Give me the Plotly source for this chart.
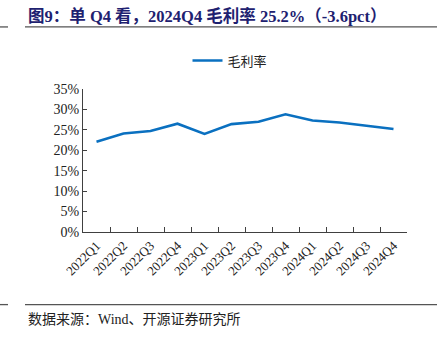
import plotly.graph_objects as go

categories = ["2022Q1", "2022Q2", "2022Q3", "2022Q4", "2023Q1", "2023Q2",
              "2023Q3", "2023Q4", "2024Q1", "2024Q2", "2024Q3", "2024Q4"]
gross_margin = [22.1, 24.1, 24.7, 26.5, 24.0, 26.4, 27.0, 28.8, 27.3, 26.8, 26.0, 25.2]
y_ticks = [0, 5, 10, 15, 20, 25, 30, 35]
y_tick_labels = [f"{v}%" for v in y_ticks]

W, H = 445, 337
L, R, T, B = 83, 407, 89.3, 231.7


def px(x):
    return (x - L) / (R - L)


def py(y):
    return (B - y) / (B - T)


serif = "Liberation Serif, Times New Roman, Noto Sans CJK SC, serif"
cjk = "Liberation Serif, Noto Sans CJK SC, serif"

fig = go.Figure()
fig.add_trace(go.Scatter(
    x=categories, y=gross_margin, mode="lines", name="毛利率",
    line=dict(color="#0A70C0", width=2.6),
))

fig.update_layout(
    width=W, height=H,
    margin=dict(l=L, r=W - R, t=T, b=H - B, pad=0),
    paper_bgcolor="white", plot_bgcolor="white",
    font=dict(family=serif, size=13, color="#222222"),
    showlegend=True,
    legend=dict(orientation="h", x=px(230), y=py(61), xanchor="center", yanchor="middle",
                font=dict(family=cjk, size=13, color="#222222"),
                bgcolor="rgba(0,0,0,0)"),
    xaxis=dict(
        type="category", showline=True, linecolor="#404040", linewidth=1,
        ticks="inside", ticklen=5, tickcolor="#404040", tickson="boundaries",
        tickangle=-45, showgrid=False, zeroline=False,
        tickfont=dict(family=serif, size=13, color="#222222"),
        range=[-0.5, len(categories) - 0.5],
    ),
    yaxis=dict(
        range=[0, 35], tickvals=y_ticks, ticktext=y_tick_labels,
        showline=True, linecolor="#404040", linewidth=1,
        ticks="inside", ticklen=4, tickcolor="#404040",
        showgrid=False, zeroline=False,
        tickfont=dict(family=serif, size=14, color="#222222"),
    ),
)

fig.add_annotation(
    text="<b>图9：单 Q4 看，2024Q4 毛利率 25.2%（-3.6pct）</b>",
    xref="paper", yref="paper", x=px(26), y=py(16.5), xanchor="left", yanchor="middle",
    showarrow=False, font=dict(family=cjk, size=16.5, color="#1E2170"),
)
fig.add_annotation(
    text="数据来源：Wind、开源证券研究所",
    xref="paper", yref="paper", x=px(26), y=py(318.5), xanchor="left", yanchor="middle",
    showarrow=False, font=dict(family=cjk, size=14, color="#222222"),
)

for yy in (27.5, 304):
    fig.add_shape(type="line", xref="paper", yref="paper",
                  x0=px(25), x1=px(437), y0=py(yy), y1=py(yy),
                  line=dict(color="#555555", width=1.3))
    fig.add_shape(type="line", xref="paper", yref="paper",
                  x0=px(0), x1=px(8), y0=py(yy), y1=py(yy),
                  line=dict(color="#555555", width=1.3))

fig.write_html("out.html")
